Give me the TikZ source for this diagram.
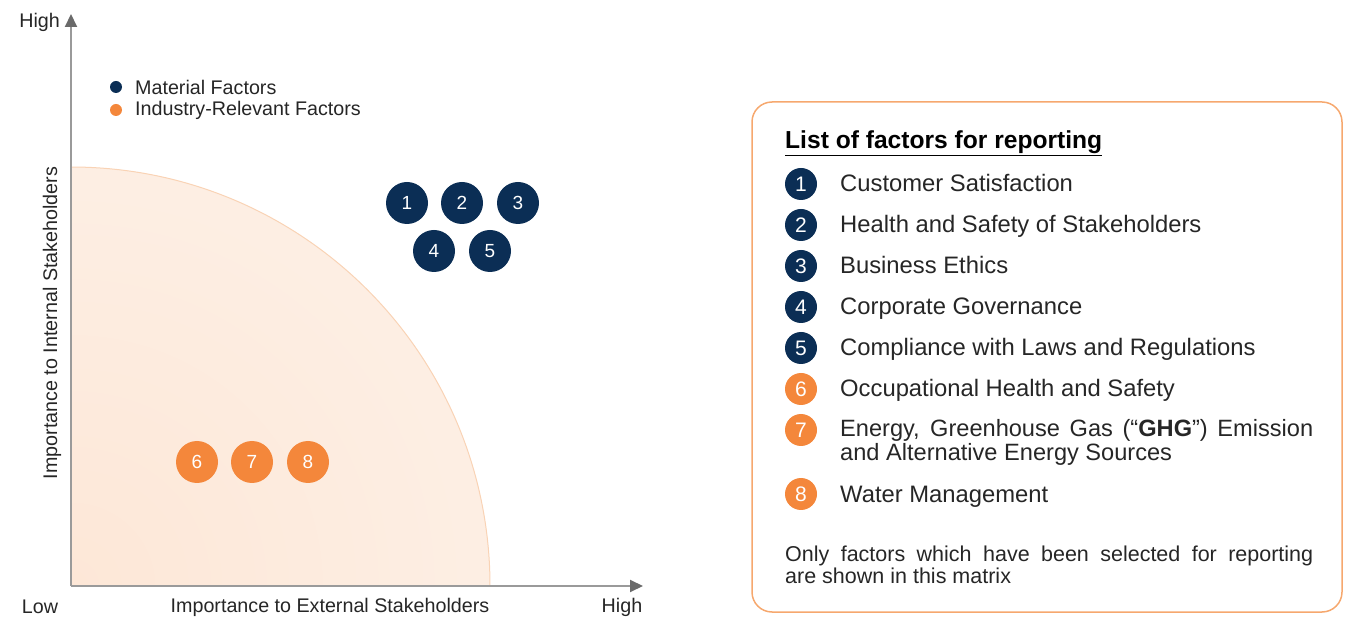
\documentclass[tikz,border=0pt]{standalone}
\usepackage{fontspec}
\setmainfont{Liberation Sans}
\usetikzlibrary{arrows.meta}
\definecolor{navy}{HTML}{0B2E55}
\definecolor{orng}{HTML}{F4873B}
\definecolor{boxline}{HTML}{F6A86E}
\definecolor{arcline}{HTML}{F9D3B5}
\definecolor{zoneA}{HTML}{FDE7D7}
\definecolor{zoneB}{HTML}{FEF6F0}
\definecolor{axisgray}{HTML}{9A9A9A}
\definecolor{tipgray}{HTML}{6A6A6A}
\definecolor{ink}{HTML}{262626}
\pgfdeclareradialshading{zone}{\pgfpoint{0bp}{0bp}}{color(0bp)=(zoneA); color(50bp)=(zoneB)}
\tikzset{
  factor/.style={circle, inner sep=0pt, minimum size=42pt, text=white,
    font=\fontsize{19}{19}\selectfont},
  matfactor/.style={factor, fill=navy},
  indfactor/.style={factor, fill=orng},
  badge/.style={circle, inner sep=0pt, minimum size=32pt, text=white,
    font=\fontsize{21}{21}\selectfont},
  legdot/.style={circle, inner sep=0pt, minimum size=12pt},
  lbl/.style={inner sep=0pt, text=ink, font=\fontsize{19.7}{20}\selectfont},
  item/.style={inner sep=0pt, anchor=base west, text=ink, font=\fontsize{23.8}{24}\selectfont},
  axis/.style={line width=2pt, draw=axisgray,
    -{Triangle[length=13pt,width=12pt,color=tipgray]}}
}
\begin{document}
\begin{tikzpicture}[x=1pt,y=1pt]
\useasboundingbox (0,0) rectangle (1350,619);

% priority zone: quarter disc around the origin
\begin{scope}
  \clip (71,33) -- (71,452) arc[start angle=90,end angle=0,radius=419] -- cycle;
  \shade[shading=zone] (71,33) circle (419);
\end{scope}
\draw[arcline, line width=1pt] (71,452) arc[start angle=90,end angle=0,radius=419];

% axes
\coordinate (origin) at (71,33);
\coordinate (ytip) at (71,605);
\coordinate (xtip) at (643,33);
\draw[axis] (origin) -- (ytip);
\draw[axis] (origin) -- (xtip);

\node[lbl, anchor=east] (yhigh) at (60,597) {High};
\node[lbl] (xlow) at (40,12) {Low};
\node[lbl] (xhigh) at (622,12) {High};
\node[lbl] (xlabel) at (330,12) {Importance to External Stakeholders};
\node[lbl, rotate=90] (ylabel) at (52,296) {Importance to Internal Stakeholders};

% legend
\node[legdot, fill=navy] (legm) at (116,532) {};
\node[legdot, fill=orng] (legi) at (116,509) {};
\node[lbl, anchor=west] (legmtxt) at (135,532) {Material Factors};
\node[lbl, anchor=west] (legitxt) at (135,509) {Industry-Relevant Factors};

% factors in the matrix
\node[matfactor] (f1) at (407,416) {1};
\node[matfactor] (f2) at (462,416) {2};
\node[matfactor] (f3) at (518,416) {3};
\node[matfactor] (f4) at (434,368) {4};
\node[matfactor] (f5) at (490,368) {5};
\node[indfactor] (f6) at (197,157) {6};
\node[indfactor] (f7) at (252,157) {7};
\node[indfactor] (f8) at (308,157) {8};

% list panel
\draw[boxline, line width=1.5pt, rounded corners=20pt] (752,7) rectangle (1342,517);
\node[inner sep=0pt, anchor=base west, text=black, font=\fontsize{24.6}{25}\selectfont\bfseries]
  (title) at (785,470) {\underline{List of factors for reporting}};

\node[badge, fill=navy] (b1) at (801,435) {1};
\node[badge, fill=navy] (b2) at (801,394) {2};
\node[badge, fill=navy] (b3) at (801,353) {3};
\node[badge, fill=navy] (b4) at (801,312) {4};
\node[badge, fill=navy] (b5) at (801,271) {5};
\node[badge, fill=orng] (b6) at (801,230) {6};
\node[badge, fill=orng] (b7) at (801,189) {7};
\node[badge, fill=orng] (b8) at (801,125) {8};

\node[item] (t1) at (840,427) {Customer Satisfaction};
\node[item] (t2) at (840,386) {Health and Safety of Stakeholders};
\node[item] (t3) at (840,345) {Business Ethics};
\node[item] (t4) at (840,304) {Corporate Governance};
\node[item] (t5) at (840,263) {Compliance with Laws and Regulations};
\node[item] (t6) at (840,222) {Occupational Health and Safety};
\node[inner sep=0pt, anchor=west, text=ink, text width=473pt, align=justify,
  font=\fontsize{23.6}{24}\selectfont] (t7) at (840,177)
  {Energy, Greenhouse Gas (“\textbf{GHG}”) Emission\linebreak and Alternative Energy Sources};
\node[item] (t8) at (840,117) {Water Management};

\node[inner sep=0pt, anchor=west, text=ink, text width=528pt, align=justify,
  font=\fontsize{21.5}{22}\selectfont] (note) at (785,54)
  {Only factors which have been selected for reporting\linebreak are shown in this matrix};
\end{tikzpicture}
\end{document}
